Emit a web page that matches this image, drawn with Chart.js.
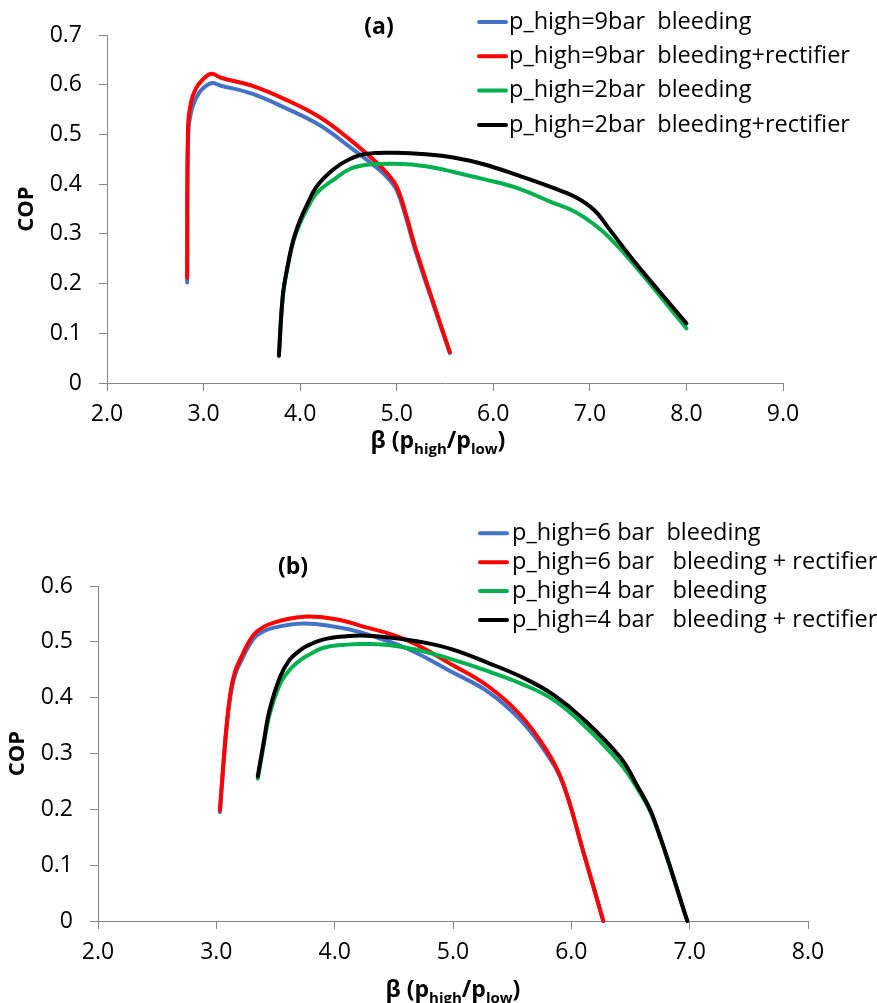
<!DOCTYPE html>
<html>
<head>
<meta charset="utf-8">
<title>COP vs pressure ratio</title>
<script src="https://cdn.jsdelivr.net/npm/chart.js@4.4.1/dist/chart.umd.min.js"></script>
<style>
  html, body { margin: 0; padding: 0; background: #fff; }
  canvas { display: block; }
</style>
</head>
<body>
<canvas id="chartA" width="877" height="470"></canvas>
<canvas id="chartB" width="877" height="533"></canvas>
<script>
// ---- (a) p_high = 9 bar and 2 bar ----
const betaA9 = [2.83, 2.84, 2.87, 2.92, 2.98, 3.08, 3.18, 3.5, 3.85, 4.2, 4.5, 4.8, 4.9, 5.0, 5.1, 5.2, 5.55];
const copA9Bleed = [0.202, 0.50, 0.545, 0.572, 0.590, 0.603, 0.598, 0.582, 0.553, 0.519, 0.477, 0.432, 0.414, 0.388, 0.330, 0.262, 0.060];
const copA9Rect = [0.212, 0.52, 0.565, 0.592, 0.608, 0.622, 0.614, 0.598, 0.570, 0.535, 0.492, 0.442, 0.422, 0.395, 0.336, 0.268, 0.062];

const betaA2 = [3.78, 3.82, 3.87, 3.93, 4.0, 4.07, 4.17, 4.34, 4.51, 4.69, 5.0, 5.3, 5.6, 5.9, 6.25, 6.6, 6.85, 7.05, 7.2, 7.45, 8.0];
const copA2Bleed = [0.055, 0.174, 0.233, 0.285, 0.322, 0.350, 0.382, 0.408, 0.430, 0.439, 0.441, 0.436, 0.424, 0.410, 0.392, 0.364, 0.344, 0.318, 0.293, 0.240, 0.110];
const copA2Rect = [0.055, 0.174, 0.235, 0.288, 0.328, 0.358, 0.395, 0.429, 0.450, 0.461, 0.463, 0.460, 0.453, 0.440, 0.418, 0.394, 0.374, 0.347, 0.310, 0.247, 0.120];

const labelsA = ["p_high=9bar  bleeding", "p_high=9bar  bleeding+rectifier", "p_high=2bar  bleeding", "p_high=2bar  bleeding+rectifier"];

// ---- (b) p_high = 6 bar and 4 bar ----
const betaB6 = [3.03, 3.08, 3.12, 3.16, 3.21, 3.27, 3.34, 3.48, 3.74, 4.0, 4.2, 4.6, 5.0, 5.3, 5.57, 5.79, 5.93, 6.1, 6.27];
const copB6Bleed = [0.195, 0.33, 0.405, 0.442, 0.466, 0.491, 0.511, 0.525, 0.533, 0.527, 0.518, 0.489, 0.445, 0.410, 0.360, 0.300, 0.245, 0.125, 0.0];
const copB6Rect = [0.198, 0.335, 0.41, 0.448, 0.472, 0.498, 0.518, 0.534, 0.545, 0.541, 0.530, 0.504, 0.458, 0.420, 0.369, 0.306, 0.247, 0.125, 0.0];

const betaB4 = [3.35, 3.40, 3.45, 3.54, 3.62, 3.69, 3.76, 3.9, 4.1, 4.27, 4.5, 4.75, 5.0, 5.3, 5.6, 5.85, 6.1, 6.41, 6.55, 6.69, 6.98];
const copB4Bleed = [0.255, 0.315, 0.37, 0.425, 0.45, 0.464, 0.474, 0.489, 0.495, 0.496, 0.493, 0.483, 0.468, 0.447, 0.423, 0.396, 0.352, 0.283, 0.24, 0.185, 0.0];
const copB4Rect = [0.259, 0.32, 0.378, 0.438, 0.468, 0.482, 0.492, 0.504, 0.510, 0.511, 0.507, 0.499, 0.486, 0.462, 0.435, 0.405, 0.362, 0.294, 0.245, 0.187, 0.0];

const labelsB = ["p_high=6 bar  bleeding", "p_high=6 bar   bleeding + rectifier", "p_high=4 bar   bleeding", "p_high=4 bar   bleeding + rectifier"];

const seriesColors = ["#4472C4", "#FF0000", "#00B050", "#000000"];
const FONT = '"Open Sans", "Liberation Sans", sans-serif';
const AXIS_GREY = "#868686";

function toPoints(xs, ys) {
    return xs.map((x, i) => ({ x: x, y: ys[i] }));
}

function makeDataset(label, xs, ys, idx) {
    return {
        label: label,
        data: toPoints(xs, ys),
        borderColor: seriesColors[idx],
        backgroundColor: seriesColors[idx],
        borderWidth: 4,
        pointRadius: 0,
        fill: false,
        tension: 0.4,
        borderCapStyle: "round",
        borderJoinStyle: "round",
        clip: false,
        order: 4 - idx   // later series drawn on top
    };
}

// draws the panel letter, the legend and the β axis title with subscripts
const panelText = {
    id: "panelText",
    afterDraw(chart, args, opts) {
        const ctx = chart.ctx;
        ctx.save();
        ctx.fillStyle = "#000";

        ctx.font = "bold 23px " + FONT;
        ctx.textAlign = "center";
        ctx.textBaseline = "middle";
        ctx.fillText(opts.panel, opts.panelX, opts.panelY);

        // legend
        ctx.textAlign = "left";
        ctx.font = "23.5px " + FONT;
        chart.data.datasets.forEach((ds, i) => {
            const y = opts.legendY + i * opts.legendStep;
            ctx.strokeStyle = ds.borderColor;
            ctx.lineWidth = 4;
            ctx.lineCap = "round";
            ctx.beginPath();
            ctx.moveTo(opts.lineX0, y);
            ctx.lineTo(opts.lineX1, y);
            ctx.stroke();
            ctx.fillStyle = "#000";
            ctx.fillText(ds.label, opts.textX, y);
        });

        // x axis title: β (p_high / p_low)
        const main = "bold 23px " + FONT;
        const sub = "bold 15px " + FONT;
        const parts = [["β (p", main, 0], ["high", sub, 6], ["/p", main, 0], ["low", sub, 6], [")", main, 0]];
        let total = 0;
        parts.forEach(p => { ctx.font = p[1]; total += ctx.measureText(p[0]).width; });
        let x = opts.xTitleX - total / 2;
        ctx.textBaseline = "alphabetic";
        parts.forEach(p => {
            ctx.font = p[1];
            ctx.fillText(p[0], x, opts.xTitleY + p[2]);
            x += ctx.measureText(p[0]).width;
        });
        ctx.restore();
    }
};

function makeScales(xMax, yMax, yWidth, xHeight, copPad) {
    return {
        x: {
            type: "linear",
            min: 2,
            max: xMax,
            ticks: {
                stepSize: 1,
                callback: v => v.toFixed(1),
                font: { family: FONT, size: 23 },
                color: "#000",
                padding: 10,
                maxRotation: 0
            },
            grid: { drawOnChartArea: false, drawTicks: true, tickLength: 8, color: AXIS_GREY },
            border: { display: true, color: AXIS_GREY, width: 1 },
            afterFit: s => { s.height = xHeight; }
        },
        y: {
            min: 0,
            max: yMax,
            ticks: {
                stepSize: 0.1,
                callback: v => (Math.abs(v) < 1e-9 ? "0" : v.toFixed(1)),
                font: { family: FONT, size: 23 },
                color: "#000",
                padding: 17
            },
            grid: { drawOnChartArea: false, drawTicks: true, tickLength: 8, color: AXIS_GREY },
            border: { display: true, color: AXIS_GREY, width: 1 },
            title: {
                display: true,
                text: "COP",
                color: "#000",
                font: { family: FONT, size: 22, weight: "bold" },
                padding: { top: copPad, bottom: 0 }
            },
            afterFit: s => { s.width = yWidth; }
        }
    };
}

new Chart(document.getElementById("chartA"), {
    type: "line",
    data: {
        datasets: [
            makeDataset(labelsA[0], betaA9, copA9Bleed, 0),
            makeDataset(labelsA[1], betaA9, copA9Rect, 1),
            makeDataset(labelsA[2], betaA2, copA2Bleed, 2),
            makeDataset(labelsA[3], betaA2, copA2Rect, 3)
        ]
    },
    options: {
        responsive: false,
        animation: false,
        events: [],
        layout: { padding: { left: 0, right: 94, top: 35, bottom: 0 } },
        scales: makeScales(9, 0.7, 107, 87, 14),
        plugins: {
            legend: { display: false },
            tooltip: { enabled: false },
            panelText: {
                panel: "(a)", panelX: 379, panelY: 27,
                legendY: 22, legendStep: 34.3, lineX0: 479, lineX1: 506, textX: 509,
                xTitleX: 438, xTitleY: 448
            }
        }
    },
    plugins: [panelText]
});

new Chart(document.getElementById("chartB"), {
    type: "line",
    data: {
        datasets: [
            makeDataset(labelsB[0], betaB6, copB6Bleed, 0),
            makeDataset(labelsB[1], betaB6, copB6Rect, 1),
            makeDataset(labelsB[2], betaB4, copB4Bleed, 2),
            makeDataset(labelsB[3], betaB4, copB4Rect, 3)
        ]
    },
    options: {
        responsive: false,
        animation: false,
        events: [],
        layout: { padding: { left: 0, right: 69, top: 116, bottom: 0 } },
        scales: makeScales(8, 0.6, 98, 82, 5),
        plugins: {
            legend: { display: false },
            tooltip: { enabled: false },
            panelText: {
                panel: "(b)", panelX: 293, panelY: 97,
                legendY: 63.3, legendStep: 28.9, lineX0: 480, lineX1: 507, textX: 512,
                xTitleX: 453, xTitleY: 527
            }
        }
    },
    plugins: [panelText]
});
</script>
</body>
</html>
